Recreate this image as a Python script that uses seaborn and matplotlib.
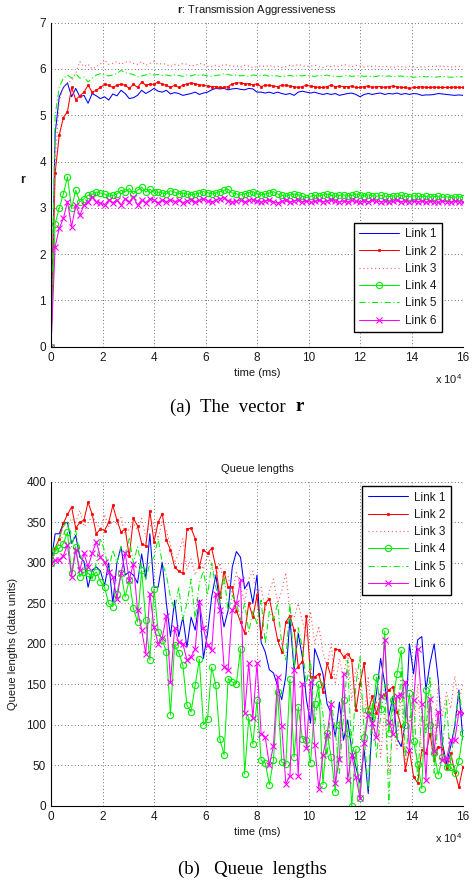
import numpy as np
import matplotlib
matplotlib.use("Agg")
import matplotlib.pyplot as plt
import seaborn as sns
from matplotlib.ticker import FuncFormatter

# ---------------- data ----------------
link_names = ["Link 1", "Link 2", "Link 3", "Link 4", "Link 5", "Link 6"]
x_tick_values = [0, 2, 4, 6, 8, 10, 12, 14, 16]          # in units of 1e4 ms
time_ms = [1600 * k for k in range(101)]                  # sample instants (ms)

# (a) transmission aggressiveness r
r_link1 = [0.0, 4.6, 5.4, 5.6, 5.7, 5.4, 5.58, 5.4, 5.43, 5.26,
           5.47, 5.42, 5.36, 5.4, 5.33, 5.46, 5.42, 5.54, 5.47, 5.36,
           5.38, 5.43, 5.54, 5.47, 5.52, 5.58, 5.52, 5.5, 5.54, 5.46,
           5.49, 5.47, 5.43, 5.45, 5.47, 5.5, 5.45, 5.48, 5.5, 5.55,
           5.58, 5.57, 5.58, 5.55, 5.57, 5.58, 5.56, 5.55, 5.58, 5.57,
           5.5, 5.5, 5.48, 5.5, 5.47, 5.5, 5.47, 5.45, 5.47, 5.43,
           5.5, 5.52, 5.5, 5.48, 5.5, 5.47, 5.45, 5.47, 5.45, 5.47,
           5.43, 5.45, 5.47, 5.48, 5.45, 5.4, 5.45, 5.47, 5.45, 5.47,
           5.48, 5.45, 5.47, 5.46, 5.48, 5.45, 5.47, 5.45, 5.47, 5.46,
           5.43, 5.44, 5.44, 5.45, 5.47, 5.46, 5.45, 5.44, 5.43, 5.44,
           5.43]
r_link2 = [0.0, 3.75, 4.57, 4.95, 5.08, 5.6, 5.34, 5.42, 5.5, 5.65,
           5.5, 5.54, 5.6, 5.67, 5.65, 5.6, 5.65, 5.67, 5.65, 5.58,
           5.67, 5.6, 5.72, 5.65, 5.67, 5.67, 5.72, 5.67, 5.65, 5.6,
           5.65, 5.6, 5.65, 5.68, 5.7, 5.68, 5.66, 5.65, 5.63, 5.62,
           5.62, 5.6, 5.6, 5.62, 5.68, 5.7, 5.7, 5.68, 5.68, 5.66,
           5.68, 5.62, 5.65, 5.65, 5.63, 5.62, 5.65, 5.65, 5.63, 5.62,
           5.6, 5.62, 5.65, 5.63, 5.62, 5.6, 5.6, 5.62, 5.65, 5.62,
           5.63, 5.62, 5.62, 5.63, 5.6, 5.6, 5.62, 5.63, 5.6, 5.62,
           5.62, 5.6, 5.62, 5.63, 5.62, 5.6, 5.6, 5.58, 5.6, 5.6,
           5.62, 5.6, 5.6, 5.61, 5.6, 5.6, 5.6, 5.6, 5.61, 5.6,
           5.6]
r_link3 = [0.0, 4.0, 5.3, 5.6, 5.7, 5.75, 5.9, 6.16, 6.05, 6.1,
           6.0, 6.05, 6.1, 6.2, 6.1, 6.12, 6.16, 6.1, 6.15, 6.16,
           6.12, 6.1, 6.16, 6.08, 6.12, 6.16, 6.1, 6.12, 6.1, 6.05,
           6.1, 6.08, 6.12, 6.1, 6.06, 6.08, 6.12, 6.1, 6.06, 6.05,
           6.08, 6.05, 6.1, 6.08, 6.05, 6.07, 6.04, 6.08, 6.06, 6.03,
           6.05, 6.07, 6.05, 6.08, 6.04, 6.06, 6.03, 6.05, 6.08, 6.06,
           6.1, 6.07, 6.05, 6.06, 6.08, 6.05, 6.03, 6.06, 6.05, 6.07,
           6.05, 6.1, 6.07, 6.05, 6.08, 6.06, 6.04, 6.06, 6.05, 6.07,
           6.04, 6.06, 6.05, 6.03, 6.06, 6.05, 6.04, 6.06, 6.05, 6.03,
           6.05, 6.04, 6.06, 6.05, 6.07, 6.05, 6.06, 6.04, 6.05, 6.06,
           6.05]
r_link4 = [0.0, 2.66, 2.99, 3.3, 3.67, 2.99, 3.38, 3.13, 3.2, 3.27,
           3.29, 3.34, 3.32, 3.3, 3.25, 3.27, 3.3, 3.38, 3.34, 3.42,
           3.3, 3.38, 3.45, 3.34, 3.4, 3.34, 3.34, 3.32, 3.3, 3.37,
           3.34, 3.3, 3.32, 3.3, 3.28, 3.3, 3.32, 3.35, 3.33, 3.3,
           3.32, 3.35, 3.38, 3.4, 3.32, 3.3, 3.28, 3.3, 3.33, 3.35,
           3.3, 3.28, 3.3, 3.32, 3.35, 3.3, 3.27, 3.25, 3.28, 3.3,
           3.28, 3.25, 3.22, 3.25, 3.27, 3.25, 3.28, 3.3, 3.27, 3.25,
           3.27, 3.28, 3.25, 3.27, 3.3, 3.28, 3.25, 3.28, 3.26, 3.25,
           3.27, 3.25, 3.24, 3.26, 3.25, 3.27, 3.25, 3.24, 3.26, 3.25,
           3.24, 3.25, 3.23, 3.24, 3.25, 3.23, 3.24, 3.22, 3.23, 3.24,
           3.22]
r_link5 = [0.0, 5.0, 5.6, 5.8, 5.87, 5.8, 5.9, 5.8, 5.83, 5.72,
           5.8, 5.87, 5.9, 5.88, 5.85, 5.87, 5.9, 5.97, 5.92, 5.9,
           5.88, 5.83, 5.85, 5.87, 5.9, 5.87, 5.88, 5.86, 5.87, 5.85,
           5.87, 5.86, 5.84, 5.87, 5.85, 5.88, 5.86, 5.87, 5.85, 5.84,
           5.86, 5.87, 5.9, 5.88, 5.86, 5.87, 5.85, 5.86, 5.84, 5.87,
           5.86, 5.85, 5.87, 5.84, 5.86, 5.85, 5.83, 5.85, 5.86, 5.84,
           5.86, 5.85, 5.87, 5.85, 5.84, 5.86, 5.85, 5.87, 5.84, 5.85,
           5.83, 5.85, 5.86, 5.84, 5.85, 5.86, 5.84, 5.85, 5.83, 5.84,
           5.86, 5.84, 5.85, 5.83, 5.84, 5.85, 5.83, 5.84, 5.82, 5.83,
           5.84, 5.83, 5.84, 5.82, 5.83, 5.84, 5.83, 5.82, 5.83, 5.83,
           5.83]
r_link6 = [0.0, 2.16, 2.56, 2.77, 3.13, 2.59, 3.06, 2.84, 3.06, 3.13,
           3.24, 3.13, 3.1, 3.06, 3.17, 3.11, 3.17, 3.06, 3.2, 3.13,
           3.24, 3.06, 3.17, 3.11, 3.2, 3.17, 3.11, 3.17, 3.13, 3.17,
           3.13, 3.17, 3.11, 3.15, 3.18, 3.12, 3.16, 3.2, 3.15, 3.12,
           3.17, 3.2, 3.22, 3.15, 3.12, 3.14, 3.17, 3.13, 3.16, 3.18,
           3.14, 3.12, 3.15, 3.17, 3.13, 3.1, 3.14, 3.16, 3.12, 3.15,
           3.17, 3.13, 3.15, 3.12, 3.14, 3.16, 3.13, 3.15, 3.17, 3.14,
           3.12, 3.15, 3.13, 3.16, 3.14, 3.12, 3.15, 3.13, 3.16, 3.14,
           3.13, 3.15, 3.12, 3.14, 3.16, 3.13, 3.15, 3.12, 3.14, 3.13,
           3.15, 3.12, 3.14, 3.13, 3.12, 3.14, 3.13, 3.12, 3.14, 3.13,
           3.12]

# (b) queue lengths (data units)
q_link1 = [300, 336, 336, 349, 350, 324, 334, 307, 302, 270,
           291, 295, 290, 272, 300, 250, 300, 320, 285, 289,
           285, 275, 311, 280, 336, 270, 270, 301, 250, 209,
           254, 209, 233, 196, 233, 217, 254, 182, 213, 258,
           285, 250, 221, 242, 295, 314, 307, 268, 277, 250,
           285, 202, 190, 168, 164, 148, 131, 160, 231, 168,
           213, 184, 131, 102, 194, 180, 163, 126, 114, 85,
           128, 81, 106, 69, 48, 28, 69, 15, 106, 139,
           182, 151, 110, 135, 83, 73, 102, 200, 163, 205,
           209, 143, 176, 200, 155, 77, 52, 73, 98, 143,
           81]
q_link2 = [300, 318, 330, 349, 360, 369, 343, 350, 353, 375,
           360, 336, 342, 340, 350, 371, 353, 338, 342, 308,
           355, 346, 324, 321, 364, 326, 350, 361, 328, 316,
           295, 290, 287, 342, 343, 330, 295, 316, 312, 318,
           295, 258, 289, 270, 270, 241, 227, 213, 250, 233,
           260, 209, 250, 256, 231, 205, 190, 227, 235, 217,
           172, 178, 235, 159, 159, 163, 141, 176, 159, 194,
           192, 184, 188, 180, 118, 151, 176, 116, 135, 114,
           135, 137, 143, 147, 116, 98, 44, 69, 36, 28,
           69, 65, 89, 56, 73, 71, 46, 65, 42, 23,
           48]
q_link3 = [300, 312, 325, 335, 345, 355, 350, 365, 345, 350,
           358, 350, 340, 360, 345, 352, 348, 356, 335, 342,
           350, 340, 355, 332, 345, 350, 330, 352, 340, 322,
           300, 312, 330, 292, 305, 285, 300, 292, 310, 296,
           282, 300, 272, 283, 262, 288, 270, 252, 280, 290,
           262, 270, 242, 265, 280, 250, 265, 288, 240, 232,
           250, 228, 210, 240, 200, 222, 190, 172, 200, 150,
           182, 160, 190, 130, 170, 150, 110, 160, 90, 130,
           60, 120, 40, 100, 70, 140, 50, 110, 90, 150,
           60, 100, 130, 80, 150, 110, 140, 120, 160, 130,
           150]
q_link4 = [300, 316, 318, 324, 338, 287, 320, 283, 289, 287,
           283, 289, 277, 270, 250, 246, 262, 287, 258, 279,
           244, 227, 291, 229, 180, 268, 215, 205, 190, 112,
           199, 189, 174, 124, 116, 149, 181, 100, 107, 171,
           149, 82, 63, 157, 153, 151, 194, 39, 109, 76,
           130, 56, 53, 26, 57, 141, 54, 51, 156, 60,
           122, 83, 81, 53, 126, 150, 26, 90, 60, 17,
           100, 130, 90, 0, 70, 10, 85, 118, 110, 159,
           120, 216, 90, 130, 163, 192, 100, 139, 80, 52,
           21, 143, 100, 65, 38, 60, 48, 48, 40, 55,
           90]
q_link5 = [300, 315, 330, 345, 352, 320, 340, 310, 300, 290,
           280, 300, 330, 315, 290, 316, 300, 320, 310, 330,
           300, 320, 295, 280, 300, 307, 330, 300, 285, 258,
           242, 270, 230, 250, 280, 230, 275, 290, 260, 300,
           270, 250, 285, 240, 260, 250, 230, 250, 215, 240,
           225, 254, 200, 240, 230, 250, 200, 180, 250, 170,
           220, 196, 150, 180, 100, 140, 114, 60, 130, 93,
           40, 110, 180, 60, 150, 184, 90, 20, 130, 60,
           110, 150, 3, 120, 80, 170, 60, 100, 140, 30,
           120, 90, 160, 40, 110, 70, 130, 50, 100, 140,
           110]
q_link6 = [300, 303, 304, 309, 322, 283, 316, 291, 312, 295,
           312, 326, 307, 301, 289, 283, 256, 287, 312, 279,
           299, 242, 217, 188, 262, 221, 200, 207, 235, 153,
           219, 202, 200, 180, 184, 194, 252, 219, 198, 192,
           262, 242, 172, 168, 242, 250, 279, 114, 176, 108,
           176, 89, 85, 50, 74, 159, 99, 27, 37, 168,
           37, 151, 71, 153, 75, 21, 63, 87, 126, 28,
           58, 163, 32, 63, 36, 9, 77, 112, 102, 85,
           135, 205, 104, 89, 135, 137, 153, 69, 130, 194,
           126, 32, 132, 67, 116, 56, 58, 81, 81, 116,
           115]

r_series = [r_link1, r_link2, r_link3, r_link4, r_link5, r_link6]
q_series = [q_link1, q_link2, q_link3, q_link4, q_link5, q_link6]

# ---------------- style ----------------
sns.set_style("white")
plt.rcParams["font.family"] = ["Liberation Sans", "DejaVu Sans"]
plt.rcParams["mathtext.fontset"] = "custom"
plt.rcParams["mathtext.rm"] = "Liberation Sans"
plt.rcParams["mathtext.bf"] = "Liberation Sans:bold"
plt.rcParams["mathtext.it"] = "Liberation Sans:italic"

BLUE, RED, PINK, GREEN, MAG = "#0000ff", "#ff0000", "#ff5a5a", "#00f000", "#ff00ff"
LW = 0.75
line_styles = [
    dict(color=BLUE, linestyle="-", linewidth=LW),
    dict(color=RED, linestyle="-", linewidth=LW, marker=".", markersize=3.5,
         markerfacecolor=RED, markeredgecolor=RED, markeredgewidth=0.5),
    dict(color=PINK, linestyle=(0, (1, 2.5)), linewidth=0.8),
    dict(color=GREEN, linestyle="-", linewidth=LW, marker="o", markersize=4.5,
         markerfacecolor="none", markeredgecolor=GREEN, markeredgewidth=0.8),
    dict(color=GREEN, linestyle=(0, (6, 2.5, 1, 2.5)), linewidth=LW),
    dict(color=MAG, linestyle="-", linewidth=LW, marker="x", markersize=4.5,
         markerfacecolor=MAG, markeredgecolor=MAG, markeredgewidth=0.8),
]

W, H = 475, 886
fig = plt.figure(figsize=(W / 100, H / 100), dpi=100)


def rect(l, t, r, b):
    return [l / W, 1 - b / H, (r - l) / W, (b - t) / H]


axA = fig.add_axes(rect(51, 22.7, 463, 346.7))
axB = fig.add_axes(rect(51, 482, 463, 805.7))

TXT = "#1a1a1a"


def draw_panel(ax, series, ylim, yticks, legend_loc, legend_anchor):
    for name, vals, st in zip(link_names, series, line_styles):
        sns.lineplot(x=time_ms, y=vals, ax=ax, label=name, sort=False,
                     estimator=None, errorbar=None, **st)
    ax.set_xlim(0, 160000)
    ax.set_ylim(*ylim)
    ax.set_xticks([v * 10000 for v in x_tick_values])
    ax.xaxis.set_major_formatter(FuncFormatter(lambda v, p: f"{v / 1e4:g}"))
    ax.set_yticks(yticks)
    ax.grid(True, linestyle=(0, (1, 3)), color="0.25", linewidth=0.6)
    for s in ("top", "right"):
        ax.spines[s].set_visible(False)
    for s in ("left", "bottom"):
        ax.spines[s].set_color("black")
        ax.spines[s].set_linewidth(0.8)
    ax.tick_params(direction="in", length=4, width=0.6, labelsize=8.5,
                   labelcolor=TXT, pad=3.5, color="black")
    ax.set_xlabel("time (ms)", fontsize=8, color=TXT)
    ax.xaxis.set_label_coords(0.5, -0.08)
    ax.xaxis.label.set_verticalalignment("center")
    ax.text(0.998, -0.099, r"x 10$^4$", transform=ax.transAxes, ha="right",
            va="center", fontsize=8, color=TXT)
    leg = ax.legend(loc=legend_loc, bbox_to_anchor=legend_anchor,
                    borderaxespad=0, fontsize=8.5, frameon=True, fancybox=False,
                    framealpha=1, edgecolor="black", handlelength=3.4,
                    handletextpad=0.5, borderpad=0.45, labelspacing=0.45,
                    numpoints=1)
    leg.get_frame().set_linewidth(1.0)
    for t in leg.get_texts():
        t.set_color(TXT)


draw_panel(axA, r_series, (0, 7), list(range(0, 8)), "lower right", (0.949, 0.045))
axA.set_title(r"$\mathbf{r}$: Transmission Aggressiveness", fontsize=8, pad=7, color=TXT)
axA.set_ylabel("r", fontsize=9, fontweight="bold", color=TXT, rotation=0)
axA.yaxis.set_label_coords(-0.069, 0.514)
axA.yaxis.label.set_verticalalignment("center")
axA.yaxis.label.set_horizontalalignment("center")

draw_panel(axB, q_series, (0, 400), list(range(0, 401, 50)), "upper right", (0.970, 0.987))
axB.set_title("Queue lengths", fontsize=8, pad=7, color=TXT)
axB.set_ylabel("Queue lengths (data units)", fontsize=8, color=TXT)
axB.yaxis.set_label_coords(-0.092, 0.5)
axB.yaxis.label.set_verticalalignment("center")

# captions (serif, LaTeX-like)
renderer = fig.canvas.get_renderer()


def caption(cx, cy, plain, bold=None, size=13.5):
    t1 = fig.text(0, 1 - cy / H, plain, family="Liberation Serif", fontsize=size,
                  va="center", ha="left", color="black")
    w1 = t1.get_window_extent(renderer).width
    w2 = 0
    t2 = None
    if bold:
        t2 = fig.text(0, 1 - cy / H, bold, family="Liberation Serif", fontsize=size,
                      fontweight="bold", va="center", ha="left", color="black")
        w2 = t2.get_window_extent(renderer).width
    x0 = cx - (w1 + w2) / 2
    t1.set_x(x0 / W)
    if t2 is not None:
        t2.set_x((x0 + w1) / W)


caption(237, 407, "(a)  The  vector  ", "r")
caption(252, 869, "(b)   Queue  lengths")

fig.savefig("out.png", dpi=100)
